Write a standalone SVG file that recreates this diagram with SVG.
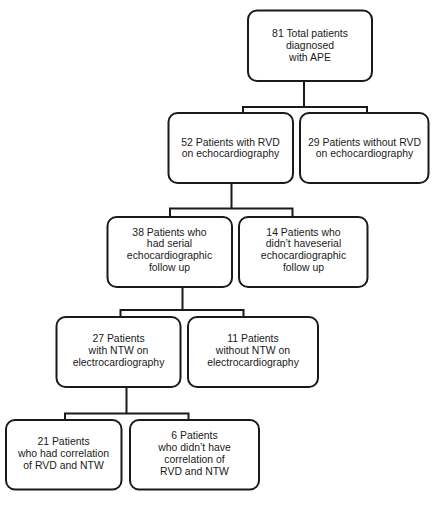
<svg xmlns="http://www.w3.org/2000/svg" width="446" height="510" viewBox="0 0 446 510">
<style>
.box{fill:#ffffff;stroke:#1a1a1a;stroke-width:2}
.lbl{font-family:"Liberation Sans",Arial,sans-serif;font-size:11px;fill:#1a1a1a;text-anchor:middle}
.conn{fill:none;stroke:#1a1a1a;stroke-width:2}
</style>
<rect width="446" height="510" fill="#ffffff"/>
<g id="connectors">
<path class="conn" d="M304,81 V107 M243,113 V107 H367 V113"/>
<path class="conn" d="M231.5,183 V208.5 M170,217 V208.5 H292.5 V217"/>
<path class="conn" d="M182.5,287 V310 M120.5,317 V310 H243.5 V317"/>
<path class="conn" d="M126.5,387 V413.5 M65,420 V413.5 H188.5 V420"/>
</g>
<g id="n81">
<rect class="box" x="248" y="10.5" width="124" height="70.5" rx="9"/>
<text class="lbl" transform="translate(310 37) scale(0.95 1)"><tspan x="0" y="0">81 Total patients</tspan><tspan x="0" y="11.8">diagnosed</tspan><tspan x="0" y="23.6">with APE</tspan></text>
</g>
<g id="n52">
<rect class="box" x="168.5" y="113" width="124.5" height="70" rx="9"/>
<text class="lbl" transform="translate(230.5 145.5) scale(0.95 1)"><tspan x="0" y="0">52 Patients with RVD</tspan><tspan x="0" y="11.8">on echocardiography</tspan></text>
</g>
<g id="n29">
<rect class="box" x="300" y="113" width="128.5" height="70" rx="9"/>
<text class="lbl" transform="translate(364.5 145.5) scale(0.95 1)"><tspan x="0" y="0">29 Patients without RVD</tspan><tspan x="0" y="11.8">on echocardiography</tspan></text>
</g>
<g id="n38">
<rect class="box" x="107.5" y="217" width="124.5" height="70" rx="9"/>
<text class="lbl" transform="translate(169.5 235.5) scale(0.95 1)"><tspan x="0" y="0">38 Patients who</tspan><tspan x="0" y="12">had serial</tspan><tspan x="0" y="24">echocardiographic</tspan><tspan x="0" y="36">follow up</tspan></text>
</g>
<g id="n14">
<rect class="box" x="239" y="217" width="128.5" height="70" rx="9"/>
<text class="lbl" transform="translate(303.5 235.5) scale(0.95 1)"><tspan x="0" y="0">14 Patients who</tspan><tspan x="0" y="12">didn’t haveserial</tspan><tspan x="0" y="24">echocardiographic</tspan><tspan x="0" y="36">follow up</tspan></text>
</g>
<g id="n27">
<rect class="box" x="56.5" y="317" width="124" height="70" rx="9"/>
<text class="lbl" transform="translate(118.5 342) scale(0.95 1)"><tspan x="0" y="0">27 Patients</tspan><tspan x="0" y="12">with NTW on</tspan><tspan x="0" y="24">electrocardiography</tspan></text>
</g>
<g id="n11">
<rect class="box" x="188" y="317" width="130" height="70" rx="9"/>
<text class="lbl" transform="translate(253 342) scale(0.95 1)"><tspan x="0" y="0">11 Patients</tspan><tspan x="0" y="12">without NTW on</tspan><tspan x="0" y="24">electrocardiography</tspan></text>
</g>
<g id="n21">
<rect class="box" x="6" y="420" width="115.5" height="69.5" rx="9"/>
<text class="lbl" transform="translate(63.5 445) scale(0.95 1)"><tspan x="0" y="0">21 Patients</tspan><tspan x="0" y="12">who had correlation</tspan><tspan x="0" y="24">of RVD and NTW</tspan></text>
</g>
<g id="n6">
<rect class="box" x="130" y="420" width="129" height="69.5" rx="9"/>
<text class="lbl" transform="translate(194.5 439) scale(0.95 1)"><tspan x="0" y="0">6 Patients</tspan><tspan x="0" y="12">who didn’t have</tspan><tspan x="0" y="24">correlation of</tspan><tspan x="0" y="36">RVD and NTW</tspan></text>
</g>
</svg>
